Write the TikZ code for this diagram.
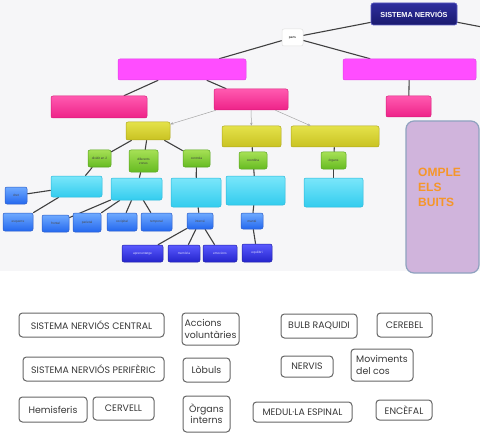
\documentclass[tikz,border=0pt]{standalone}
\usepackage{fontspec}
\setmainfont{Liberation Sans}
\newfontfamily\gothic{Poppins}
\usetikzlibrary{arrows.meta}
\definecolor{bgtop}{HTML}{F6F6F8}
\definecolor{navyT}{HTML}{2E2E9E}\definecolor{navyB}{HTML}{1A1A6E}\definecolor{navyD}{HTML}{5A5ABF}
\definecolor{magF}{HTML}{FF4DFF}\definecolor{magD}{HTML}{E040E8}
\definecolor{pinkT}{HTML}{FF5AB0}\definecolor{pinkB}{HTML}{EE2288}\definecolor{pinkD}{HTML}{D81C7A}
\definecolor{yelT}{HTML}{E4E24A}\definecolor{yelB}{HTML}{C9C222}\definecolor{yelD}{HTML}{AFA81C}
\definecolor{grnT}{HTML}{A6E055}\definecolor{grnB}{HTML}{66BB22}\definecolor{grnD}{HTML}{58A41E}
\definecolor{cyaT}{HTML}{7AE6FA}\definecolor{cyaB}{HTML}{33CCEE}\definecolor{cyaD}{HTML}{29B8DA}
\definecolor{bluT}{HTML}{6FAAFF}\definecolor{bluB}{HTML}{2468EE}\definecolor{bluD}{HTML}{2A5BC8}
\definecolor{dbT}{HTML}{5A5AFF}\definecolor{dbB}{HTML}{2424CC}\definecolor{dbD}{HTML}{2020A8}
\definecolor{purF}{HTML}{D0B4DC}\definecolor{purD}{HTML}{8FA2BF}
\definecolor{orng}{HTML}{F5962A}
\definecolor{conn}{HTML}{404040}
\definecolor{labD}{HTML}{666666}
\definecolor{labT}{HTML}{383838}
\pgfdeclarelayer{bg}\pgfdeclarelayer{lines}\pgfsetlayers{bg,lines,main}
\tikzset{
  sz/.style 2 args={minimum width=#1pt, minimum height=#2pt},
  box/.style={rounded corners=2pt, inner sep=0pt, align=center, line width=0.5pt,
    font=\fontsize{3.2}{3.8}\selectfont},
  navybox/.style={box, rounded corners=2.5pt, top color=navyT, bottom color=navyB, draw=navyD, line width=0.7pt,
    text=white, font=\bfseries\fontsize{7.3}{9}\selectfont},
  partsbox/.style={box, fill=white, draw=black!12},
  magbox/.style={box, fill=magF, draw=magD},
  pinkbox/.style={box, top color=pinkT, bottom color=pinkB, draw=pinkD},
  yelbox/.style={box, top color=yelT, bottom color=yelB, draw=yelD},
  grnbox/.style={box, top color=grnT, bottom color=grnB, draw=grnD, text=black!75},
  cyabox/.style={box, top color=cyaT, bottom color=cyaB, draw=cyaD},
  blubox/.style={box, top color=bluT, bottom color=bluB, draw=bluD, text=black!70},
  dbbox/.style={box, top color=dbT, bottom color=dbB, draw=dbD, text=white!85!blue},
  conline/.style={draw=conn, line width=1.1pt},
  arr/.style={draw=black!35, line width=0.5pt, -{Stealth[length=3pt,width=2.5pt]}},
  lab/.style={draw=labD, line width=1pt, rounded corners=3.5pt, fill=white, inner sep=0pt,
    text=labT, font=\gothic\fontsize{9.4}{11.2}\selectfont},
}
\begin{document}
\begin{tikzpicture}[x=1pt,y=-1pt]
\useasboundingbox (0,0) rectangle (480,436);
\begin{pgfonlayer}{bg}
  \fill[bgtop] (0,0) rectangle (480,271);
\end{pgfonlayer}

% --- tree nodes
\node[navybox, sz={86}{22}] (sn) at (414,14) {SISTEMA NERVIÓS};
\coordinate (snr) at (482,27);
\node[partsbox, sz={21}{17}] (parts) at (292.5,37.5) {parts};
\node[magbox, sz={128}{21}] (mag1) at (182,69.5) {};
\node[magbox, sz={133}{21}] (mag2) at (409.5,69.5) {};
\node[pinkbox, sz={96}{22}] (pk1) at (99,107) {};
\node[pinkbox, sz={74}{21}] (pk2) at (251,99.5) {};
\node[pinkbox, sz={45}{21}] (pk3) at (408.5,106.5) {};
\node[yelbox, sz={44}{18}] (ye1) at (148,131) {};
\node[yelbox, sz={59}{21}] (ye2) at (251.5,136.5) {};
\node[yelbox, sz={88}{21}] (ye3) at (335,136.5) {};
\node[grnbox, sz={23}{17}] (g1) at (99.5,158.5) {dividit en 2};
\node[grnbox, sz={29}{22}] (g2) at (143.5,161) {diferents\\zones};
\node[grnbox, sz={27}{17}] (g3) at (196.5,158.5) {controla};
\node[grnbox, sz={28}{17}] (g4) at (253,160.5) {coordina};
\node[grnbox, sz={25}{17}] (g5) at (333.5,160.5) {òrgans};
\node[cyabox, sz={51}{21}] (c1) at (76.5,186.5) {};
\node[cyabox, sz={51}{22}] (c2) at (136.5,189) {};
\node[cyabox, sz={50}{29}] (c3) at (196,192.5) {};
\node[cyabox, sz={59}{29}] (c4) at (255.5,190.5) {};
\node[cyabox, sz={59}{29}] (c5) at (333.5,192.5) {};
\node[blubox, sz={22}{17}] (dret) at (16,195.5) {dret};
\node[blubox, sz={30}{18}] (esq) at (18,222) {esquerre};
\node[blubox, sz={27}{17}] (fro) at (55.5,223.5) {frontal};
\node[blubox, sz={28}{19}] (par) at (87,222.5) {parietal};
\node[blubox, sz={30}{18}] (occ) at (122,222) {occipital};
\node[blubox, sz={31}{18}] (tem) at (156.5,222) {temporal};
\node[blubox, sz={26}{16}] (int) at (200,221) {intervé};
\node[blubox, sz={22}{16}] (man) at (252,221) {manté};
\node[dbbox, sz={41}{17}] (apr) at (142.5,253.5) {aprenentatge};
\node[dbbox, sz={32}{17}] (mem) at (184,253.5) {memòria};
\node[dbbox, sz={34}{17}] (emo) at (220,253.5) {emocions};
\node[dbbox, sz={30}{18}] (equ) at (257,253) {equilibri};

% --- purple panel
\node[draw=purD, fill=purF, line width=1.2pt, rounded corners=8pt, sz={73}{152}, inner sep=0pt] (panel) at (442.5,197) {};
\node[anchor=north west, inner sep=0pt, align=left, text=orng,
      font=\bfseries\fontsize{12}{15}\selectfont] (omple) at (418,168) {OMPLE\\ELS\\BUITS};

% --- connectors
\begin{pgfonlayer}{lines}
  \draw[conline] (sn) -- (parts);
  \draw[conline] (sn) -- (snr);
  \draw[conline] (parts) -- (mag1);
  \draw[conline] (parts) -- (mag2);
  \draw[conline] (mag1) -- (pk1);
  \draw[conline] (mag1) -- (pk2);
  \draw[conline] (mag2) -- (pk3);
  \draw[conline] (ye1) -- (g1);
  \draw[conline] (ye1) -- (g2);
  \draw[conline] (ye1) -- (g3);
  \draw[conline] (g1) -- (c1);
  \draw[conline] (g2) -- (c2);
  \draw[conline] (g3) -- (c3);
  \draw[conline] (c1) -- (dret);
  \draw[conline] (c1) -- (esq);
  \draw[conline] (c2) -- (fro);
  \draw[conline] (c2) -- (par);
  \draw[conline] (c2) -- (occ);
  \draw[conline] (c2) -- (tem);
  \draw[conline] (c3) -- (int);
  \draw[conline] (int) -- (apr);
  \draw[conline] (int) -- (mem);
  \draw[conline] (int) -- (emo);
  \draw[conline] (ye2) -- (g4);
  \draw[conline] (g4) -- (c4);
  \draw[conline] (c4) -- (man);
  \draw[conline] (man) -- (equ);
  \draw[conline] (ye3) -- (g5);
  \draw[conline] (g5) -- (c5);
\end{pgfonlayer}
\draw[arr] (pk2) -- (ye1);
\draw[arr] (pk2) -- (ye2);
\draw[arr] (pk2) -- (ye3);

% --- word bank
\node[lab, sz={145}{24}] (snc) at (91.5,325) {SISTEMA NERVIÓS CENTRAL};
\node[lab, sz={141}{24}] (snp) at (93.5,369) {SISTEMA NERVIÓS PERIFÈRIC};
\node[lab, sz={68}{25}] (hem) at (53,409.5) {Hemisferis};
\node[lab, sz={61}{23}] (cer) at (123.5,408.5) {CERVELL};
\node[lab, sz={57}{32}, align=left] (acc) at (210.5,329) {Accions\\voluntàries};
\node[lab, sz={47}{24}] (lob) at (206.5,370) {Lòbuls};
\node[lab, sz={47}{36}, align=center] (org) at (206.5,414) {Òrgans\\interns};
\node[lab, sz={76}{24}] (bulb) at (319,326) {BULB RAQUIDI};
\node[lab, sz={55}{24}] (cbl) at (404.5,325) {CEREBEL};
\node[lab, sz={52}{21}] (ner) at (307,366.5) {NERVIS};
\node[lab, sz={62}{32}, align=left] (mov) at (382,365) {Moviments\\del cos};
\node[lab, sz={99}{20}] (med) at (302.5,412) {MEDUL·LA ESPINAL};
\node[lab, sz={56}{20}] (enc) at (404,410) {ENCÈFAL};
\end{tikzpicture}
\end{document}
